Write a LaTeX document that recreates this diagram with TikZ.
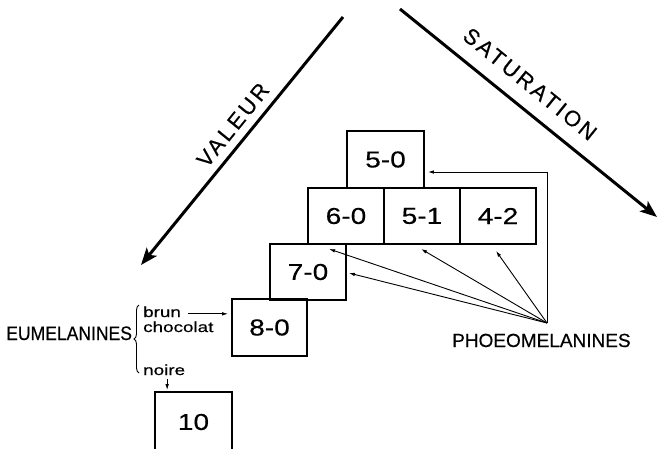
\documentclass[tikz,border=0pt]{standalone}
\usepackage{fontspec}
\setmainfont[FakeBold=0.4]{Liberation Sans}
\newfontfamily\widefont[FakeStretch=1.3,FakeBold=0.4]{Liberation Sans}
\newfontfamily\boxfont[FakeStretch=1.22,FakeBold=0.4]{Liberation Sans}
\newfontfamily\spacedfont[LetterSpace=13,FakeBold=0.4]{Liberation Sans}
\newfontfamily\narrowfont[FakeStretch=0.9,FakeBold=0.4]{Liberation Sans}
\usetikzlibrary{arrows.meta,decorations.pathreplacing}
\tikzset{
  boxnode/.style={draw,line width=1.9pt,minimum width=76pt,minimum height=56pt,inner sep=0pt,
    font=\boxfont\fontsize{23}{25}\selectfont},
  bigarrow/.style={line width=3pt,-{Stealth[length=17pt,width=13pt,inset=4pt]}},
  smallarrow/.style={line width=0.9pt,-{Latex[length=6pt,width=3.6pt]}},
  smalltext/.style={inner sep=0pt,font=\widefont\fontsize{14.5}{16}\selectfont},
  axistext/.style={inner sep=0pt,font=\spacedfont\fontsize{22}{24}\selectfont},
}
\begin{document}
\begin{tikzpicture}[x=1pt,y=-1pt]
\useasboundingbox (0,0) rectangle (660,448);
\clip (0,0) rectangle (660,448);
% axes
\coordinate (va) at (343,17);
\coordinate (vb) at (141,265);
\coordinate (sa) at (400,9);
\coordinate (sb) at (657,217);
\draw[bigarrow] (va) -- (vb);
\draw[bigarrow] (sa) -- (sb);
\node[axistext,rotate=51] (valeur) at (233,125) {VALEUR};
\node[axistext,rotate=-39] (satur) at (530,84) {SATURATION};
% boxes
\node[boxnode,minimum width=77pt,minimum height=57pt] (b50) at (385.5,159.5) {5-0};
\node[boxnode] (b60) at (346,216) {6-0};
\node[boxnode] (b51) at (422,216) {5-1};
\node[boxnode] (b42) at (498,216) {4-2};
\node[boxnode] (b70) at (308,272) {7-0};
\node[boxnode,minimum width=75pt,minimum height=57pt] (b80) at (269.5,327.5) {8-0};
\node[boxnode,minimum width=77pt,minimum height=60pt] (b10) at (193.5,422) {10};
% phoeomelanines
\node[inner sep=0pt,anchor=base west,font=\fontsize{19}{21}\selectfont] (phe) at (452,347) {PHOEOMELANINES};
\coordinate (p) at (547,323);
\draw[smallarrow] (p) -- ([xshift=2pt,yshift=-1pt]b70.east);
\draw[smallarrow] (p) -- ([xshift=22pt,yshift=-4pt]b60.south west);
\draw[smallarrow] (p) -- ([xshift=38pt,yshift=-4pt]b51.south west);
\draw[smallarrow] (p) -- ([xshift=37pt,yshift=-6pt]b42.south west);
\draw[smallarrow] (p) |- ([xshift=3pt,yshift=-12.5pt]b50.east);
% eumelanines
\node[inner sep=0pt,anchor=base west,font=\narrowfont\fontsize{19.5}{21}\selectfont] (eum) at (6,340) {EUMELANINES};
\coordinate (brb) at (139,373);
\coordinate (brt) at (139,305);
\draw[line width=0.9pt,decorate,decoration={brace,amplitude=5pt}] (brb) -- (brt);
\node[smalltext,anchor=base west] (brun) at (143,317) {brun};
\node[smalltext,anchor=base west] (choc) at (143,332) {chocolat};
\node[smalltext,anchor=base west] (noire) at (143,375) {noire};
\coordinate (brunr) at ([xshift=7pt,yshift=-2pt]brun.east);
\coordinate (noired) at ([xshift=3pt,yshift=-4pt]noire.south);
\draw[smallarrow,shorten >=3pt] (brunr) -- (b80.west |- brunr);
\draw[smallarrow,shorten >=1pt] (noired) -- (noired |- b10.north);
\end{tikzpicture}
\end{document}
